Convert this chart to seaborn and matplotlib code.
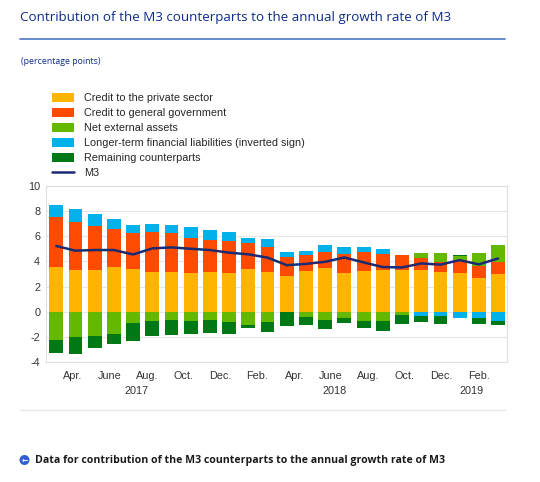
import numpy as np
import matplotlib
matplotlib.use("Agg")
import matplotlib.pyplot as plt
import seaborn as sns
from matplotlib.patches import Patch, Circle
from matplotlib.lines import Line2D

# ---------------- data ----------------
months = ["Mar. 2017", "Apr. 2017", "May 2017", "June 2017", "July 2017", "Aug. 2017",
          "Sep. 2017", "Oct. 2017", "Nov. 2017", "Dec. 2017", "Jan. 2018", "Feb. 2018",
          "Mar. 2018", "Apr. 2018", "May 2018", "June 2018", "July 2018", "Aug. 2018",
          "Sep. 2018", "Oct. 2018", "Nov. 2018", "Dec. 2018", "Jan. 2019", "Feb. 2019"]

credit_private = [3.58, 3.31, 3.31, 3.52, 3.36, 3.18, 3.18, 3.10, 3.13, 3.10, 3.40, 3.18,
                  2.85, 3.25, 3.49, 3.11, 3.25, 3.35, 3.33, 3.31, 3.17, 3.10, 2.72, 2.99]
credit_government = [3.97, 3.84, 3.52, 3.02, 2.87, 3.15, 3.10, 2.78, 2.57, 2.55, 2.08, 1.93,
                     1.50, 1.25, 1.28, 1.49, 1.48, 1.20, 1.20, 0.99, 0.76, 1.02, 0.92, 0.96]
net_external = [-2.25, -1.99, -1.91, -1.72, -0.87, -0.72, -0.61, -0.72, -0.66, -0.79, -1.05, -0.79,
                0.00, -0.38, -0.66, -0.48, -0.74, -0.74, -0.26, 0.33, 0.77, 0.30, 1.03, 1.35]
longer_term = [0.93, 0.98, 0.90, 0.82, 0.63, 0.61, 0.58, 0.87, 0.80, 0.70, 0.36, 0.66,
               0.39, 0.34, 0.55, 0.57, 0.38, 0.42, 0.00, -0.34, -0.34, -0.45, -0.46, -0.75]
remaining = [-1.01, -1.32, -0.92, -0.80, -1.46, -1.19, -1.19, -1.00, -0.98, -0.98, -0.25, -0.78,
             -1.14, -0.66, -0.73, -0.43, -0.51, -0.78, -0.74, -0.50, -0.66, 0.10, -0.47, -0.31]
m3 = [5.22, 4.85, 4.90, 4.90, 4.55, 5.03, 5.11, 5.00, 4.90, 4.69, 4.56, 4.30,
      3.70, 3.80, 3.97, 4.31, 3.92, 3.55, 3.52, 3.84, 3.74, 4.10, 3.76, 4.23]

series_names = ["Credit to the private sector", "Credit to general government",
                "Net external assets", "Longer-term financial liabilities (inverted sign)",
                "Remaining counterparts"]
tick_labels = ["Apr.", "June", "Aug.", "Oct.", "Dec.", "Feb.",
               "Apr.", "June", "Aug.", "Oct.", "Dec.", "Feb."]
year_labels = ["2017", "2018", "2019"]
year_label_pos = [4.2, 14.5, 21.6]
y_ticks = [-4, -2, 0, 2, 4, 6, 8, 10]

title = "Contribution of the M3 counterparts to the annual growth rate of M3"
subtitle = "(percentage points)"
footer = "Data for contribution of the M3 counterparts to the annual growth rate of M3"

colors = ["#FFB400", "#FF4B00", "#65B800", "#00B1EA", "#007816"]
line_color = "#1b2a72"
ecb_blue = "#0e2b8a"

# ---------------- figure ----------------
sns.set_theme(style="white")
plt.rcParams['font.family'] = ['Liberation Sans', 'DejaVu Sans']

W, H = 540, 482
fig = plt.figure(figsize=(W / 100, H / 100), dpi=100)
fig.patch.set_facecolor("white")
ax = fig.add_axes([45.7 / W, 1 - 362.3 / H, (506.7 - 45.7) / W, (362.3 - 185.7) / H])

n = len(months)
x = np.arange(n)
pos_bottom = np.zeros(n)
neg_bottom = np.zeros(n)
all_series = [credit_private, credit_government, net_external, longer_term, remaining]
for vals, col in zip(all_series, colors):
    v = np.asarray(vals, dtype=float)
    bottom = np.where(v >= 0, pos_bottom, neg_bottom)
    ax.bar(x, v, bottom=bottom, width=0.72, color=col, linewidth=0, zorder=2)
    pos_bottom += np.clip(v, 0, None)
    neg_bottom += np.clip(v, None, 0)

sns.lineplot(x=x, y=m3, ax=ax, color=line_color, linewidth=1.8, zorder=3)

ax.set_xlim(-0.55, 23.45)
ax.set_ylim(-4, 10)
ax.set_yticks(y_ticks)
ax.set_yticklabels([str(t) for t in y_ticks])
tick_pos = -0.09 + 0.96 * np.arange(1, n, 2)
ax.set_xticks(tick_pos)
ax.set_xticklabels(tick_labels)
ax.yaxis.grid(True, color="#e6e6e6", linewidth=0.8, zorder=0)
ax.xaxis.grid(False)
ax.set_axisbelow(True)
for s in ax.spines.values():
    s.set_color("#dedede")
    s.set_linewidth(0.8)
ax.tick_params(axis="both", length=0, labelsize=7.8, colors="#333333")
ax.tick_params(axis="y", pad=4)
ax.tick_params(axis="x", pad=6.5)
ax.set_xlabel("")
ax.set_ylabel("")

for lab, p in zip(year_labels, year_label_pos):
    ax.text(p, -0.160, lab, transform=ax.get_xaxis_transform(), ha="center", va="center",
            fontsize=7.8, color="#333333")

# title and rule
fig.text(20.5 / W, 1 - 17 / H, title, fontsize=9.6, color=ecb_blue, va="center", ha="left",
         family=["Open Sans", "DejaVu Sans"])
fig.add_artist(Line2D([20 / W, 505 / W], [1 - 39.3 / H] * 2, color="#5d80cc", lw=1.3))
fig.text(21 / W, 1 - 62 / H, subtitle, fontsize=6.3, color=ecb_blue, va="center", ha="left",
         family=["Open Sans", "DejaVu Sans"])

# legend
handles = [Patch(facecolor=c, edgecolor="none") for c in colors]
handles.append(Line2D([0], [0], color=line_color, lw=1.8))
fig.legend(handles, series_names + ["M3"], loc="upper left",
           bbox_to_anchor=(52 / W, 1 - 93 / H), frameon=False, fontsize=7.8,
           handlelength=2.0, handleheight=0.9, handletextpad=1.0, labelspacing=0.43,
           borderpad=0, borderaxespad=0)

# footer
fig.add_artist(Line2D([20 / W, 505 / W], [1 - 410 / H] * 2, color="#e8e8e8", lw=1.0))
circ = Circle((24.5 / 100, (H - 460) / 100), 0.05, transform=fig.dpi_scale_trans,
              facecolor="#2f5fd0", edgecolor="none")
fig.add_artist(circ)
fig.text(24.5 / W, 1 - 460 / H, "\u2190", fontsize=5.5, color="white", ha="center", va="center",
         fontweight="bold", family=["DejaVu Sans"])
fig.text(35 / W, 1 - 460 / H, footer, fontsize=7.6, color="#1a1a1a", fontweight="bold",
         va="center", ha="left", family=["Open Sans", "DejaVu Sans"])

fig.savefig("out.png", dpi=100, facecolor="white")
